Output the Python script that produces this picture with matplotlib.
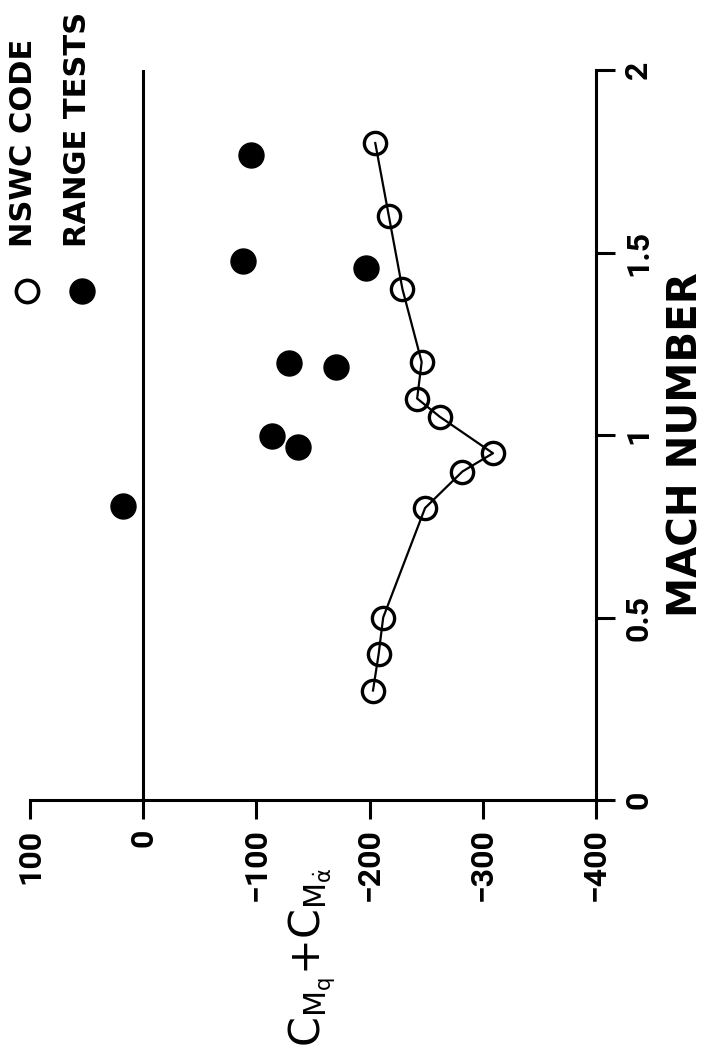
import matplotlib
matplotlib.use("Agg")
import matplotlib.pyplot as plt
from matplotlib.lines import Line2D

# NSWC code predictions (open circles, joined)
nswc_mach = [0.3, 0.4, 0.5, 0.8, 0.9, 0.95, 1.05, 1.1, 1.2, 1.4, 1.6, 1.8]
nswc_cm = [-203, -208, -212, -249, -282, -309, -262, -242, -246, -229, -217, -205]

# range test results (filled circles)
range_mach = [0.805, 0.967, 0.997, 1.186, 1.197, 1.458, 1.477, 1.767]
range_cm = [18, -137, -114, -170, -129, -197, -88, -95]

cm_ticks = [100, 0, -100, -200, -300, -400]
cm_labels = ["100", "0", "\u2212100", "\u2212200", "\u2212300", "\u2212400"]
mach_ticks = [0, 0.5, 1, 1.5, 2]
mach_labels = ["0", "0.5", "1", "1.5", "2"]

W, H = 712, 1052
plt.rcParams["mathtext.default"] = "regular"
fig = plt.figure(figsize=(W / 100, H / 100), dpi=100)
# the page is printed turned a quarter turn: Mach runs up the page, CM across it
ax = fig.add_axes([30 / W, (H - 800) / H, 566 / W, 730 / H])

tickfont = dict(family=["Roboto", "DejaVu Sans"], weight="bold", size=23)

ax.axvline(0, color="black", lw=2.2)
ax.plot(nswc_cm, nswc_mach, color="black", lw=1.6, marker="o", ms=16,
        mfc="none", mec="black", mew=2.4, zorder=3)
ax.plot(range_cm, range_mach, ls="none", marker="o", ms=18,
        mfc="black", mec="black", zorder=3)

ax.set_xlim(100, -400)
ax.set_ylim(0, 2)

for s in ["top", "left"]:
    ax.spines[s].set_visible(False)
for s in ["bottom", "right"]:
    ax.spines[s].set_linewidth(2.2)

ax.yaxis.tick_right()
ax.set_xticks(cm_ticks)
ax.set_xticklabels(cm_labels, rotation=90, **tickfont)
ax.set_yticks(mach_ticks)
ax.set_yticklabels(mach_labels, rotation=90, va="center", **tickfont)
ax.tick_params(axis="x", direction="out", length=13.5, width=2.2, pad=7)
ax.tick_params(axis="y", direction="out", length=13.5, width=2.2, pad=6)

fig.text(686 / W, 1 - 445 / H, "MACH NUMBER", rotation=90, ha="center",
         va="center", fontsize=29, fontweight="bold")
fig.text(312 / W, 1 - 957 / H, r"$C_{M_q}{+}C_{M_{\dot{\alpha}}}$", rotation=90,
         ha="center", va="center", fontsize=31)

# legend, turned with the page
fig.add_artist(Line2D([27 / W], [1 - 291 / H], transform=fig.transFigure,
                      marker="o", ms=16, mfc="none", mec="black", mew=2.6))
fig.add_artist(Line2D([82 / W], [1 - 291 / H], transform=fig.transFigure,
                      marker="o", ms=18, mfc="black", mec="black"))
fig.text(24 / W, 1 - 247 / H, "NSWC CODE", rotation=90, ha="center",
         va="bottom", fontsize=22, fontweight="bold")
fig.text(78 / W, 1 - 247 / H, "RANGE TESTS", rotation=90, ha="center",
         va="bottom", fontsize=22, fontweight="bold")

fig.savefig("out.png", dpi=100)
